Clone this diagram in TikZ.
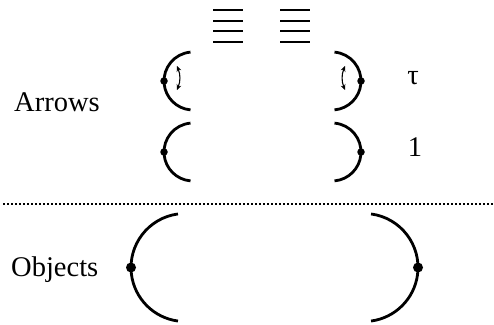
\documentclass[tikz,border=0pt]{standalone}
\usepackage{fontspec}
\setmainfont{Liberation Serif}
\usetikzlibrary{arrows.meta}
\begin{document}
\begin{tikzpicture}[x=1pt,y=1pt,
  arcline/.style={line width=2.8pt},
  eqline/.style={line width=2.6pt},
  dotsmall/.style={circle,fill=black,inner sep=0pt,minimum size=7.5pt},
  dotbig/.style={circle,fill=black,inner sep=0pt,minimum size=10pt},
  lbl/.style={font=\rmfamily\fontsize{28.5}{30}\selectfont,inner sep=0pt},
  twohead/.style={line width=1.1pt,{Stealth[length=5.5pt,width=5pt]}-{Stealth[length=5.5pt,width=5pt]}}]
\useasboundingbox (0,0) rectangle (494,324);
% labels
\node[lbl,anchor=base west] (arrows) at (14,212) {Arrows};
\node[lbl,anchor=base west] (objects) at (11,48) {Objects};
\node[lbl,anchor=base] (tau) at (413,239) {τ};
\node[lbl,anchor=base] (one) at (415,167) {1};
% equivalence signs
\foreach \yy in {314,303,293,282}{
  \draw[eqline] (213,\yy) -- (243,\yy);
  \draw[eqline] (280,\yy) -- (310,\yy);
}
% top row (tau)
\coordinate (c1l) at (193,243);
\coordinate (c1r) at (332,243);
\draw[arcline] (c1l) ++(95:29) arc[start angle=95,end angle=265,radius=29];
\draw[arcline] (c1r) ++(85:29) arc[start angle=85,end angle=-85,radius=29];
\node[dotsmall] (d1l) at (164,243) {};
\node[dotsmall] (d1r) at (361,243) {};
\coordinate (a1t) at (177,258);
\coordinate (a1b) at (177,234);
\coordinate (a2t) at (345,258);
\coordinate (a2b) at (345,234);
\draw[twohead] (a1t) to[bend left=22] (a1b);
\draw[twohead] (a2t) to[bend right=22] (a2b);
% second row (1)
\coordinate (c2l) at (193,172);
\coordinate (c2r) at (332,172);
\draw[arcline] (c2l) ++(95:29) arc[start angle=95,end angle=265,radius=29];
\draw[arcline] (c2r) ++(85:29) arc[start angle=85,end angle=-85,radius=29];
\node[dotsmall] (d2l) at (164,172) {};
\node[dotsmall] (d2r) at (361,172) {};
% separator
\coordinate (sepl) at (3,120);
\coordinate (sepr) at (494,120);
\draw[line width=2.4pt,dash pattern=on 2.2pt off 1.8pt] (sepl) -- (sepr);
% objects
\coordinate (c3l) at (185,56.5);
\coordinate (c3r) at (364,56.5);
\draw[arcline] (c3l) ++(97.5:54) arc[start angle=97.5,end angle=262.5,radius=54];
\draw[arcline] (c3r) ++(82.5:54) arc[start angle=82.5,end angle=-82.5,radius=54];
\node[dotbig] (d3l) at (131,56.5) {};
\node[dotbig] (d3r) at (418,56.5) {};
\end{tikzpicture}
\end{document}
